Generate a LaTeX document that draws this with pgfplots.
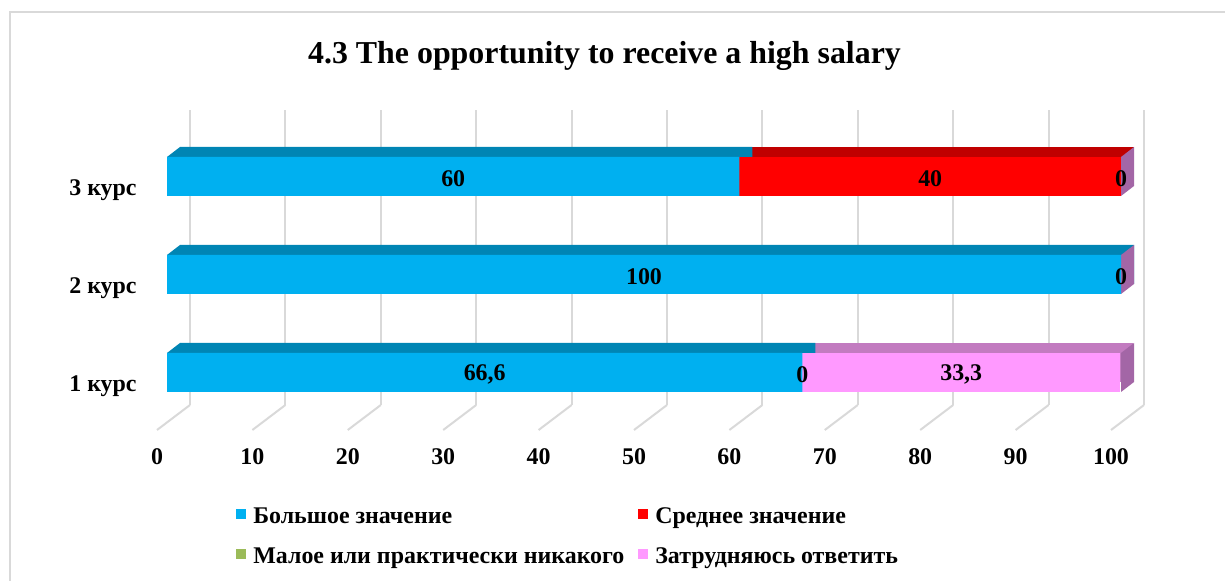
\documentclass[border=0pt]{standalone}
\usepackage{fontspec}
\setmainfont{Liberation Serif}
\usepackage{pgfplots}
\pgfplotsset{compat=1.18}
\usepackage{pgfplotstable}

\definecolor{cBlue}{HTML}{00B0F0}
\definecolor{cBlueTop}{HTML}{0085B4}
\definecolor{cRed}{HTML}{FF0000}
\definecolor{cRedTop}{HTML}{C00000}
\definecolor{cGreen}{HTML}{9BBB59}
\definecolor{cGreenTop}{HTML}{7A9A3E}
\definecolor{cPink}{HTML}{FF99FF}
\definecolor{cPinkTop}{HTML}{C27BC0}
\definecolor{cSide}{HTML}{A366A6}
\definecolor{cGrid}{HTML}{D9D9D9}

% shares by course, percent
\pgfplotstableread{
pos blue red green pink
0 66.6 0 0 33.3
1 100 0 0 0
2 60 40 0 0
}\shares

\newcommand{\lbl}{\bfseries\fontsize{12}{14}\selectfont}

\pgfplotsset{
  barbox/.style={
    scale only axis, width=477bp, height=147bp,
    xmin=0, xmax=100, ymin=-0.5, ymax=2.5,
    anchor=south west, clip=false,
  },
}

\begin{document}
\begin{tikzpicture}
\useasboundingbox (0,0) rectangle (612.5bp,290.5bp);
\draw[cGrid, line width=1bp] (4.75bp,-5bp) -- (4.75bp,284.5bp) -- (620bp,284.5bp);

% back wall and floor
\begin{axis}[
  scale only axis, width=477bp, height=147.5bp,
  at={(95bp,88bp)}, anchor=south west,
  xmin=0, xmax=100, ymin=0, ymax=1,
  xtick={0,10,...,100}, ytick=\empty,
  xmajorgrids, grid style={cGrid, line width=1bp},
  axis line style={draw=none}, major tick length=0pt,
  tick label style={font=\lbl}, /pgf/number format/assume math mode=true,
  xticklabel style={anchor=center, xshift=-16.5bp, yshift=-26bp},
  clip=false,
]
\pgfplotsinvokeforeach{0,10,20,30,40,50,60,70,80,90,100}{
  \draw[cGrid, line width=1bp] (axis cs:#1,0) -- ++(-16.5bp,-12.5bp);
}
\end{axis}

% top faces
\begin{axis}[barbox, at={(90bp,84.75bp)}, hide axis, xbar stacked, bar width=19.5bp]
\addplot[fill=cBlueTop, draw=none] table[x=blue, y=pos]{\shares};
\addplot[fill=cRedTop, draw=none] table[x=red, y=pos]{\shares};
\addplot[fill=cGreenTop, draw=none] table[x=green, y=pos]{\shares};
\addplot[fill=cPinkTop, draw=none] table[x=pink, y=pos]{\shares};
\end{axis}

% bevelled corners and right side faces
\begin{axis}[barbox, at={(83.5bp,79.75bp)}, hide axis]
\pgfplotsinvokeforeach{0,1,2}{
  \fill[cBlueTop] ([yshift=9.75bp]axis cs:0,#1) -- ([xshift=6.5bp,yshift=14.75bp]axis cs:0,#1)
    -- ([xshift=6.5bp,yshift=9.75bp]axis cs:0,#1) -- cycle;
  \fill[cSide] ([yshift=-9.75bp]axis cs:100,#1) -- ([xshift=6.5bp,yshift=-4.75bp]axis cs:100,#1)
    -- ([xshift=6.5bp,yshift=14.75bp]axis cs:100,#1) -- ([yshift=9.75bp]axis cs:100,#1) -- cycle;
}
\end{axis}

% front faces
\begin{axis}[barbox, at={(83.5bp,79.75bp)}, xbar stacked, bar width=19.5bp,
  axis line style={draw=none}, major tick length=0pt, xtick=\empty,
  ytick={0,1,2}, yticklabels={1 курс,2 курс,3 курс},
  yticklabel style={font=\lbl, anchor=east, inner sep=0pt, xshift=-15bp, yshift=-7bp},
  legend columns=2, legend cell align=left,
  legend style={draw=none, fill=none, inner sep=0pt, at={(0.0723,-0.285)}, anchor=north west,
    font=\lbl, nodes={inner sep=0pt, text height=9bp, text depth=3bp}, row sep=8bp,
    /tikz/every odd column/.append style={column sep=3.5bp}},
  legend image code/.code={\path[#1, draw=none] (0bp,-0.5bp) rectangle (5bp,4.5bp);},
]
\addplot[fill=cBlue, draw=none] table[x=blue, y=pos]{\shares};
\addlegendentry{\makebox[192.5bp][l]{Большое значение}}
\addplot[fill=cRed, draw=none] table[x=red, y=pos]{\shares};
\addlegendentry{Среднее значение}
\addplot[fill=cGreen, draw=none] table[x=green, y=pos]{\shares};
\addlegendentry{\makebox[192.5bp][l]{Малое или практически никакого}}
\addplot[fill=cPink, draw=none] table[x=pink, y=pos]{\shares};
\addlegendentry{Затрудняюсь ответить}
\end{axis}

% value labels, centred in each segment
\begin{axis}[barbox, at={(83.5bp,79.75bp)}, hide axis,
  point meta=explicit,
  nodes near coords={\pgfmathprintnumber[use comma, assume math mode=true]{\pgfplotspointmeta}},
  every node near coord/.append style={anchor=center, font=\lbl, yshift=-1bp},
]
\addplot[draw=none] table[x expr=\thisrow{blue}/2, y=pos, meta=blue]{\shares};
\addplot[draw=none, skip coords between index={1}{2}] table[x expr=\thisrow{blue}+\thisrow{red}/2, y=pos, meta=red]{\shares};
\addplot[draw=none] table[x expr=\thisrow{blue}+\thisrow{red}+\thisrow{green}+\thisrow{pink}/2, y=pos, meta=pink]{\shares};
\end{axis}

\node[anchor=base, font=\bfseries\fontsize{16}{19}\selectfont] at (302.25bp,258.5bp) {4.3 The opportunity to receive a high salary};
\end{tikzpicture}
\end{document}
